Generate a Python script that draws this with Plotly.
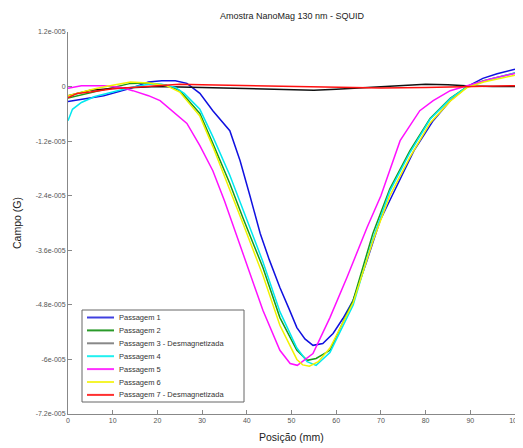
import plotly.graph_objects as go

# ---- data (values in Gauss) ----
x_p1 = [0, 2, 5, 8, 11, 14, 18, 21, 24, 26.6, 29.5, 32.4, 36.2, 38.5, 40.7, 43, 45, 47.4, 49.5, 51.2, 53, 54.8, 57, 59.3, 61.5, 63.8, 66.8, 69.8, 72.5, 75, 77.4, 81.7, 85.5, 89.3, 92.8, 96, 100]
y_p1 = [-0.33e-5, -0.30e-5, -0.26e-5, -0.20e-5, -0.12e-5, -0.04e-5, 0.10e-5, 0.13e-5, 0.13e-5, 0.07e-5, -0.15e-5, -0.53e-5, -0.97e-5, -1.63e-5, -2.40e-5, -3.23e-5, -3.80e-5, -4.42e-5, -4.90e-5, -5.30e-5, -5.55e-5, -5.69e-5, -5.65e-5, -5.43e-5, -5.10e-5, -4.70e-5, -3.85e-5, -2.95e-5, -2.40e-5, -1.90e-5, -1.41e-5, -0.75e-5, -0.31e-5, 0.0, 0.18e-5, 0.28e-5, 0.38e-5]

x_p2 = [0, 3, 6, 10, 14, 18, 22, 25, 29.5, 32.4, 36.2, 39.1, 43.6, 47.4, 51.2, 53.5, 55.5, 58.6, 63.8, 68.2, 72, 76.5, 81, 85.5, 89.3, 93, 100]
y_p2 = [-0.25e-5, -0.18e-5, -0.10e-5, -0.02e-5, 0.07e-5, 0.08e-5, 0.03e-5, -0.09e-5, -0.59e-5, -1.25e-5, -2.13e-5, -2.88e-5, -3.98e-5, -5.08e-5, -5.80e-5, -6.02e-5, -5.98e-5, -5.80e-5, -4.70e-5, -3.23e-5, -2.25e-5, -1.41e-5, -0.70e-5, -0.26e-5, 0.0, 0.13e-5, 0.30e-5]

x_p3 = [0, 2, 5, 10, 20, 30, 40, 50, 55, 60, 65, 70, 75, 80, 85, 90, 95, 100]
y_p3 = [-0.20e-5, -0.15e-5, -0.08e-5, -0.04e-5, 0.0, -0.02e-5, -0.05e-5, -0.08e-5, -0.08e-5, -0.06e-5, -0.03e-5, 0.0, 0.03e-5, 0.05e-5, 0.04e-5, 0.01e-5, 0.0, 0.0]

x_p4 = [0, 1, 3, 6, 10, 14, 18, 21, 24, 26, 29.5, 32.4, 36.2, 39.1, 43.6, 47.4, 51.2, 53.5, 55.5, 58.6, 63.8, 68.2, 72, 76.5, 81, 85.5, 89.3, 93, 100]
y_p4 = [-0.75e-5, -0.50e-5, -0.35e-5, -0.22e-5, -0.12e-5, -0.02e-5, 0.05e-5, 0.05e-5, -0.02e-5, -0.15e-5, -0.50e-5, -1.10e-5, -1.95e-5, -2.70e-5, -3.85e-5, -4.95e-5, -5.75e-5, -6.05e-5, -6.13e-5, -5.85e-5, -4.80e-5, -3.35e-5, -2.30e-5, -1.45e-5, -0.72e-5, -0.27e-5, 0.0, 0.12e-5, 0.30e-5]

x_p5 = [0, 3, 8, 12, 14.5, 18, 20.6, 24.6, 26.6, 29.5, 32.4, 35, 40.3, 43.6, 47.4, 49.7, 51.3, 54.8, 58.6, 62.4, 66.9, 70, 74.3, 78.7, 81.7, 85.5, 89.3, 95, 100]
y_p5 = [-0.04e-5, 0.02e-5, 0.02e-5, -0.02e-5, -0.09e-5, -0.20e-5, -0.31e-5, -0.64e-5, -0.81e-5, -1.30e-5, -1.85e-5, -2.51e-5, -3.98e-5, -4.92e-5, -5.80e-5, -6.09e-5, -6.13e-5, -5.87e-5, -5.08e-5, -4.20e-5, -3.10e-5, -2.40e-5, -1.19e-5, -0.53e-5, -0.31e-5, -0.09e-5, 0.02e-5, 0.18e-5, 0.29e-5]

x_p6 = [0, 3, 6, 10, 14, 18, 22, 25, 29.5, 32.4, 36.2, 39.1, 43.6, 47.4, 51.2, 52.5, 54, 56, 58.6, 63.8, 68.2, 72, 76.5, 81, 85.5, 89.3, 93, 100]
y_p6 = [-0.20e-5, -0.12e-5, -0.05e-5, 0.03e-5, 0.10e-5, 0.08e-5, 0.02e-5, -0.12e-5, -0.65e-5, -1.32e-5, -2.25e-5, -3.00e-5, -4.15e-5, -5.25e-5, -6.00e-5, -6.12e-5, -6.15e-5, -6.05e-5, -5.75e-5, -4.75e-5, -3.40e-5, -2.40e-5, -1.55e-5, -0.80e-5, -0.32e-5, -0.02e-5, 0.10e-5, 0.25e-5]

x_p7 = [0, 2, 5, 10, 20, 25, 30, 40, 50, 60, 65, 70, 80, 90, 100]
y_p7 = [-0.25e-5, -0.15e-5, -0.12e-5, -0.05e-5, 0.02e-5, 0.05e-5, 0.04e-5, 0.02e-5, 0.0, -0.02e-5, -0.02e-5, -0.03e-5, -0.02e-5, 0.0, 0.02e-5]

series_names = ["Passagem 1", "Passagem 2", "Passagem 3 - Desmagnetizada", "Passagem 4",
                "Passagem 5", "Passagem 6", "Passagem 7 - Desmagnetizada"]
series_colors = ["#1010e0", "#1a9a1a", "#111111", "#00e8f0", "#ff10ff", "#f2f200", "#ff1010"]
legend_colors = ["#4040e0", "#2a9a2a", "#888888", "#20f0f0", "#ff30ff", "#f5f530", "#ff3030"]

y_tickvals = [1.2e-5, 0, -1.2e-5, -2.4e-5, -3.6e-5, -4.8e-5, -6e-5, -7.2e-5]
y_ticktext = ["1.2e-005", "0", "-1.2e-005", "-2.4e-005", "-3.6e-005", "-4.8e-005", "-6e-005", "-7.2e-005"]
x_tickvals = [0, 10, 20, 30, 40, 50, 60, 70, 80, 90, 100]

xs = [x_p1, x_p2, x_p3, x_p4, x_p5, x_p6, x_p7]
ys = [y_p1, y_p2, y_p3, y_p4, y_p5, y_p6, y_p7]

# page body has an 8px default margin: size the figure so it fits the window
OFF = 8
WIN_W, WIN_H = 523, 448
W, H = WIN_W - OFF, WIN_H - OFF
# plot area in window pixels: x 68..515, y 32..414
ML, MT = 68 - OFF, 32 - OFF
MR = (WIN_W - OFF) - (515 - OFF) - 0
MR = W - (515 - OFF)
MB = H - (414 - OFF)
PW, PH = W - ML - MR, H - MT - MB

def wx(px):
    # window pixel x -> paper x
    return (px - OFF - ML) / PW

def wy(py):
    # window pixel y -> paper y
    return (H - MB - (py - OFF)) / PH

fig = go.Figure()
for xv, yv, nm, c in zip(xs, ys, series_names, series_colors):
    fig.add_trace(go.Scatter(x=xv, y=yv, mode="lines", name=nm, showlegend=False,
                             line=dict(color=c, width=1.5)))

# ---- manual compact legend (MATLAB style) ----
shapes = []
annotations = []
box_l, box_r, box_t, box_b = 82, 244, 310, 402
shapes.append(dict(type="rect", xref="paper", yref="paper",
                   x0=wx(box_l), x1=wx(box_r), y0=wy(box_b), y1=wy(box_t),
                   line=dict(color="#666666", width=1), fillcolor="white", layer="above"))
row0, row_step = 317.5, 12.9
for i, (nm, c) in enumerate(zip(series_names, legend_colors)):
    py = row0 + i * row_step
    shapes.append(dict(type="line", xref="paper", yref="paper",
                       x0=wx(87), x1=wx(114), y0=wy(py), y1=wy(py),
                       line=dict(color=c, width=2), layer="above"))
    annotations.append(dict(text=nm, xref="paper", yref="paper",
                            x=wx(117), y=wy(py),
                            xanchor="left", yanchor="middle", showarrow=False,
                            font=dict(size=7.5, color="#333333")))

annotations.append(dict(text="Posição (mm)", xref="paper", yref="paper",
                        x=wx(291), y=wy(437),
                        xanchor="center", yanchor="middle", showarrow=False,
                        font=dict(size=10.5, color="#222222")))
annotations.append(dict(text="Campo (G)", xref="paper", yref="paper",
                        x=wx(17), y=wy(223),
                        xanchor="center", yanchor="middle", showarrow=False, textangle=-90,
                        font=dict(size=10.5, color="#222222")))
annotations.append(dict(text="Amostra NanoMag 130 nm - SQUID", xref="paper", yref="paper",
                        x=wx(292), y=wy(16),
                        xanchor="center", yanchor="middle", showarrow=False,
                        font=dict(size=9, color="#222222")))

font_family = "Liberation Sans, Arial, sans-serif"
fig.update_layout(
    width=W, height=H,
    margin=dict(l=ML, r=MR, t=MT, b=MB, autoexpand=False),
    paper_bgcolor="white", plot_bgcolor="white",
    font=dict(family=font_family, color="#333333", size=7),
    showlegend=False,
    shapes=shapes,
    annotations=annotations,
    xaxis=dict(range=[0, 100], tickvals=x_tickvals, showgrid=False, zeroline=False,
               showline=True, linecolor="#888888", linewidth=1, automargin=False,
               ticks="inside", ticklen=4, tickcolor="#888888",
               tickfont=dict(size=7, color="#555555")),
    yaxis=dict(range=[-7.2e-5, 1.2e-5], tickvals=y_tickvals, ticktext=y_ticktext,
               showgrid=False, zeroline=False, automargin=False,
               showline=True, linecolor="#888888", linewidth=1,
               ticks="inside", ticklen=4, tickcolor="#888888",
               tickfont=dict(size=7, color="#555555")),
)

fig.write_html("out.html")
